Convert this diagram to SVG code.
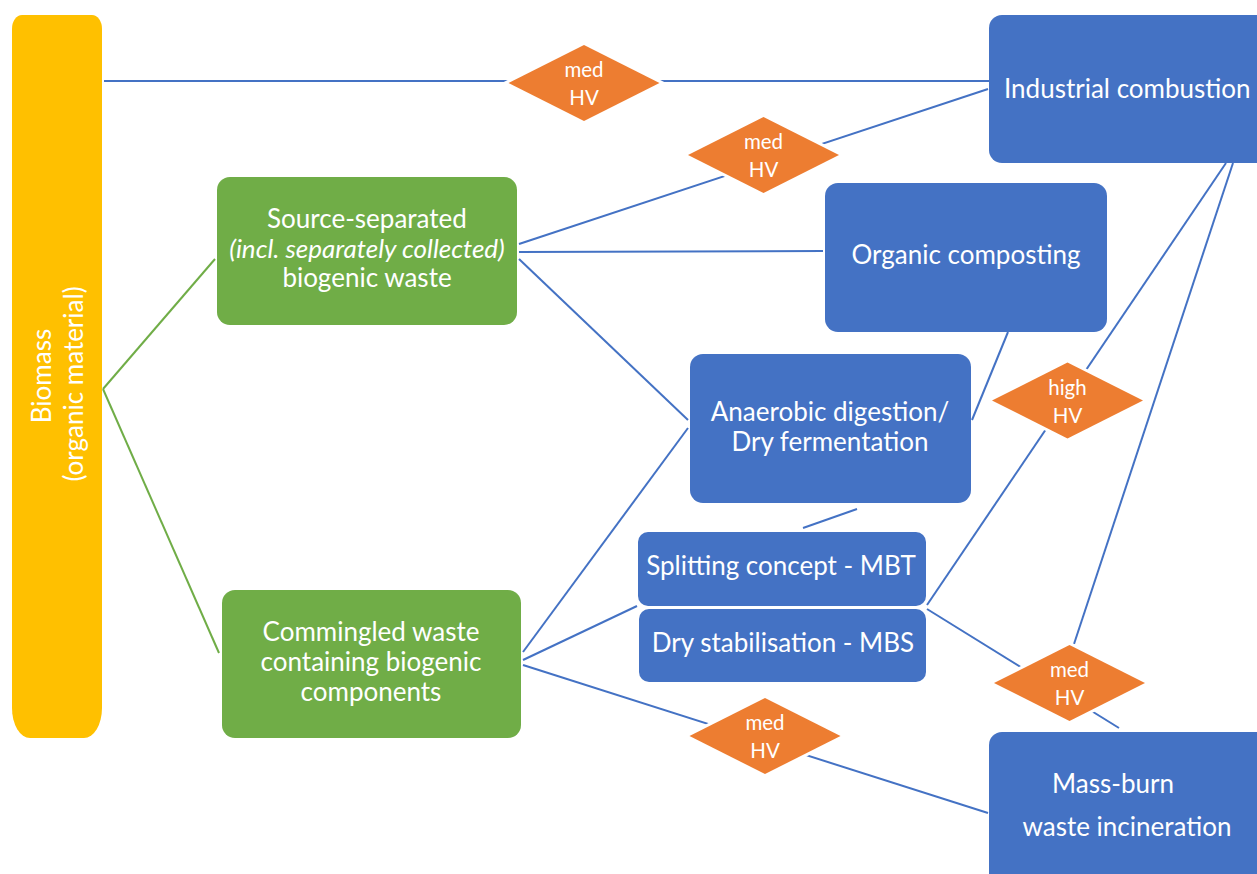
<svg xmlns="http://www.w3.org/2000/svg" width="1257" height="874" viewBox="0 0 1257 874">
<style>
.t{font-family:Lato,"Open Sans","Liberation Sans",sans-serif;fill:#fff;font-size:26px;text-anchor:middle}
.s{font-size:20.5px}
.blue{fill:#4472C4}
.green{fill:#70AD47}
.c{fill:none;stroke:#4472C4;stroke-width:2}
.g{fill:none;stroke:#70AD47;stroke-width:2}
.halo{fill:#fff;stroke:#fff;stroke-width:6;stroke-linejoin:miter}
.dia{fill:#ED7D31}
</style>
<defs>
<path id="dm" d="M-75.5,0 L0,-38 L75.5,0 L0,38 Z"/>
</defs>
<rect width="1257" height="874" fill="#fff"/>

<g id="connectors">
<line class="g" x1="103" y1="389" x2="215" y2="259"/>
<line class="g" x1="103" y1="389" x2="219" y2="653"/>
<line class="c" x1="104" y1="81" x2="989" y2="81"/>
<line class="c" x1="519" y1="244" x2="988" y2="89"/>
<line class="c" x1="519" y1="252" x2="823" y2="251"/>
<line class="c" x1="519" y1="259" x2="688" y2="420"/>
<line class="c" x1="523" y1="652" x2="688" y2="428"/>
<line class="c" x1="523" y1="660" x2="637" y2="606"/>
<line class="c" x1="523" y1="665" x2="988" y2="813"/>
<line class="c" x1="857" y1="509" x2="803" y2="528"/>
<line class="c" x1="1008" y1="332" x2="972" y2="420"/>
<line class="c" x1="1226" y1="163" x2="927" y2="605"/>
<line class="c" x1="1233" y1="163" x2="1074" y2="644"/>
<line class="c" x1="927" y1="609" x2="1119" y2="728"/>
</g>

<g id="biomass">
<path fill="#FFC000" d="M22,15 H92 A10,14 0 0 1 102,29 V708 A18,30 0 0 1 84,738 H30 A18,30 0 0 1 12,708 V29 A10,14 0 0 1 22,15 Z"/>
<text class="t" transform="translate(51,376) rotate(-90)">Biomass</text>
<text class="t" transform="translate(83,384) rotate(-90)">(organic material)</text>
</g>

<g id="source-separated">
<rect class="green" x="217" y="177" width="300" height="148" rx="13"/>
<text class="t" x="367" y="228">Source-separated</text>
<text class="t" x="367" y="258" font-style="italic">(incl. separately collected)</text>
<text class="t" x="367" y="287">biogenic waste</text>
</g>

<g id="commingled">
<rect class="green" x="222" y="590" width="299" height="148" rx="13"/>
<text class="t" x="371" y="641">Commingled waste</text>
<text class="t" x="371" y="671">containing biogenic</text>
<text class="t" x="371" y="701">components</text>
</g>

<g id="industrial-combustion">
<rect class="blue" x="989" y="15" width="290" height="148" rx="13"/>
<text class="t" x="1004" y="98" text-anchor="start" style="text-anchor:start">Industrial combustion</text>
</g>

<g id="organic-composting">
<rect class="blue" x="825" y="183" width="282" height="149" rx="13"/>
<text class="t" x="966" y="264">Organic composting</text>
</g>

<g id="anaerobic-digestion">
<rect class="blue" x="690" y="354" width="281" height="149" rx="13"/>
<text class="t" x="830" y="421">Anaerobic digestion/</text>
<text class="t" x="830" y="451">Dry fermentation</text>
</g>

<g id="splitting-mbt">
<rect class="blue" x="638" y="532" width="288" height="74" rx="10"/>
<text class="t" x="781" y="575">Splitting concept - MBT</text>
</g>

<g id="dry-stabilisation-mbs">
<rect class="blue" x="639" y="609" width="287" height="73" rx="10"/>
<text class="t" x="783" y="652">Dry stabilisation - MBS</text>
</g>

<g id="mass-burn">
<rect class="blue" x="989" y="732" width="290" height="160" rx="13"/>
<text class="t" x="1113" y="793">Mass-burn</text>
<text class="t" x="1127" y="836">waste incineration</text>
</g>

<g id="hv-1">
<use href="#dm" class="halo" transform="translate(584,83)"/>
<use href="#dm" class="dia" transform="translate(584,83)"/>
<text class="t s" x="584" y="77">med</text>
<text class="t s" x="584" y="105">HV</text>
</g>

<g id="hv-2">
<use href="#dm" class="halo" transform="translate(763.5,155)"/>
<use href="#dm" class="dia" transform="translate(763.5,155)"/>
<text class="t s" x="763.5" y="149">med</text>
<text class="t s" x="763.5" y="177">HV</text>
</g>

<g id="hv-3">
<use href="#dm" class="halo" transform="translate(1067.5,400.5)"/>
<use href="#dm" class="dia" transform="translate(1067.5,400.5)"/>
<text class="t s" x="1067.5" y="395">high</text>
<text class="t s" x="1067.5" y="423">HV</text>
</g>

<g id="hv-4">
<use href="#dm" class="halo" transform="translate(1069.5,683)"/>
<use href="#dm" class="dia" transform="translate(1069.5,683)"/>
<text class="t s" x="1069.5" y="677">med</text>
<text class="t s" x="1069.5" y="705">HV</text>
</g>

<g id="hv-5">
<use href="#dm" class="halo" transform="translate(765,736)"/>
<use href="#dm" class="dia" transform="translate(765,736)"/>
<text class="t s" x="765" y="730">med</text>
<text class="t s" x="765" y="758">HV</text>
</g>
</svg>
